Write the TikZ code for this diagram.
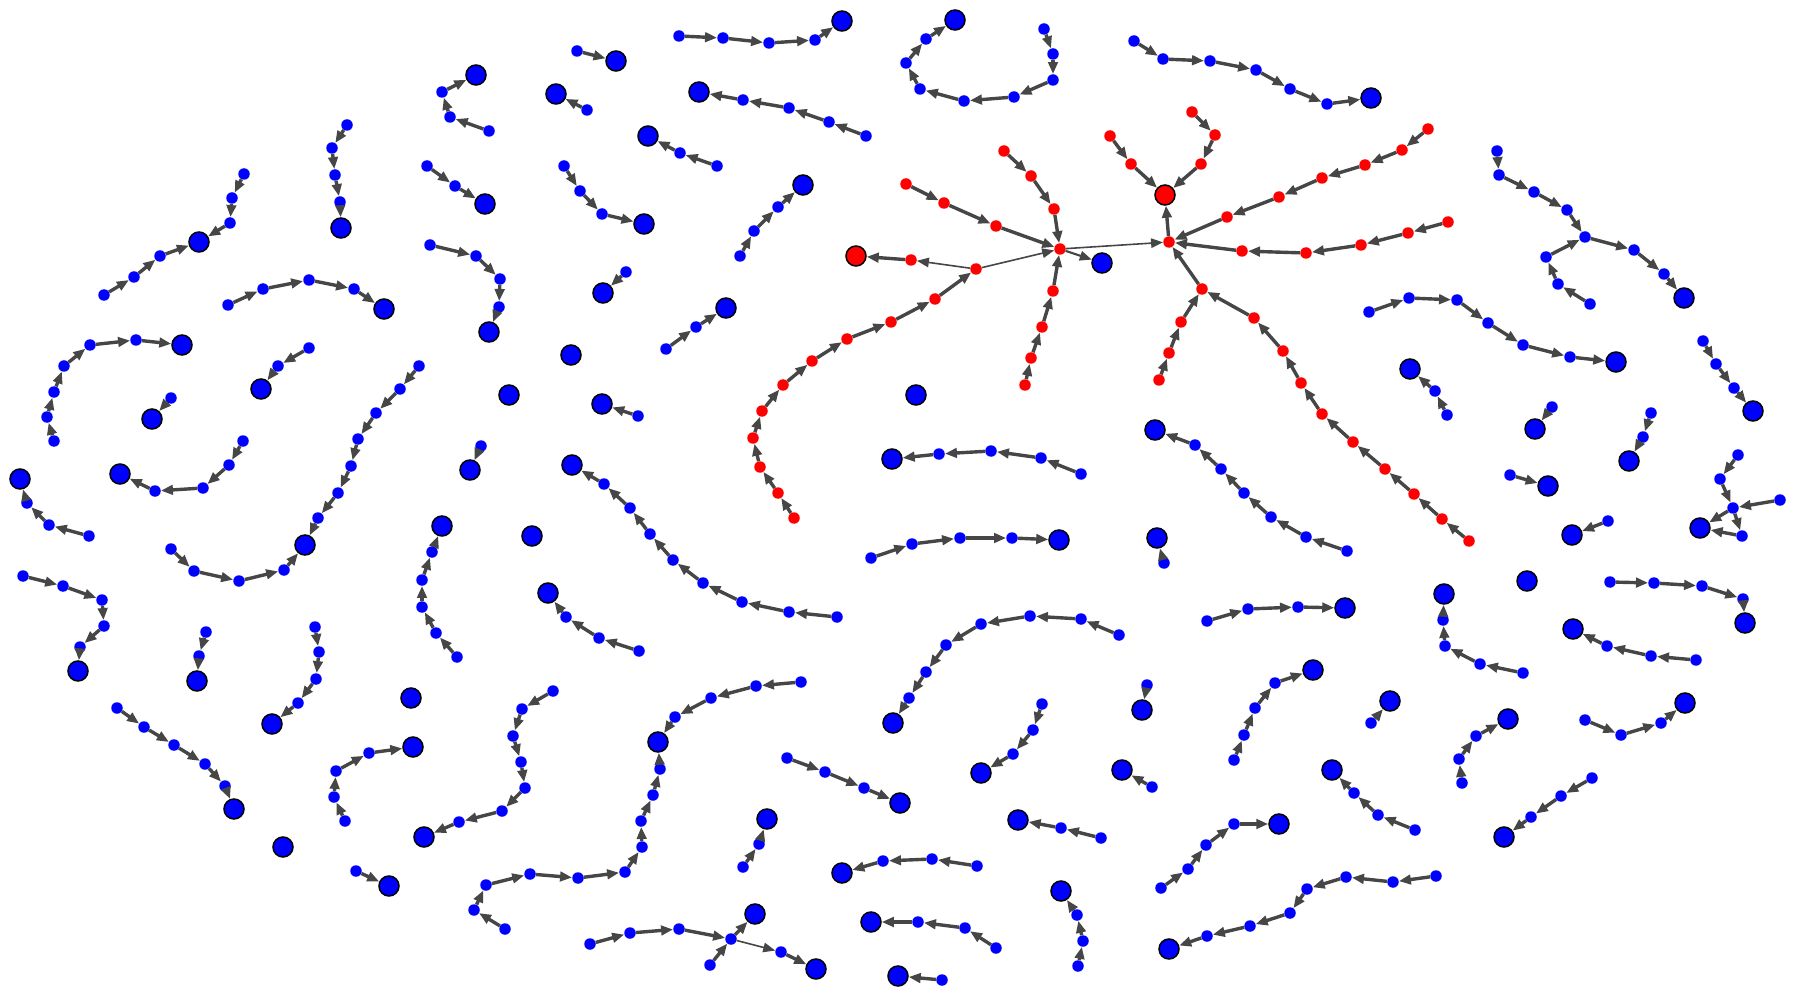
\documentclass[tikz,border=0pt]{standalone}
\usepackage{tikz}
\usetikzlibrary{arrows.meta}
\definecolor{edgegray}{RGB}{70,70,70}

% a chain of small nodes, each pointing to the next, the last one to #4
\newcommand{\nodechain}[4][leaf]{%
  \foreach \px/\py [count=\i, remember=\i as \lasti (initially 0)] in {#3} {%
    \node[#1] (#2\i) at (\px,\py) {};
    \ifnum\i>1 \draw[edge] (#2\lasti) -- (#2\i);\fi
    \xdef\chainend{#2\i}%
  }%
  \draw[edge] (\chainend) -- (#4);%
}

\begin{document}
\begin{tikzpicture}[x=1pt, y=-1pt,
  leaf/.style={circle, fill=blue, inner sep=0pt, minimum size=11.5pt},
  redleaf/.style={leaf, fill=red},
  root/.style={circle, fill=blue, draw=black, line width=1.5pt, inner sep=0pt, minimum size=20pt},
  redroot/.style={root, fill=red},
  edge/.style={draw=edgegray, line width=3.4pt, -{Triangle[length=12pt,width=9.5pt]}},
  midedge/.style={edge, line width=2.2pt},
  thinedge/.style={edge, line width=1.6pt}]
  \useasboundingbox (0,0) rectangle (1800,1000);

  % single roots
  \node[root] (s1) at (571,355) {};
  \node[root] (s2) at (509,395) {};
  \node[root] (s3) at (532,536) {};
  \node[root] (s4) at (916,395) {};
  \node[root] (s5) at (1527,581) {};
  \node[root] (s6) at (411,698) {};
  \node[root] (s7) at (283,847) {};

  % top left
  \node[root] (r1) at (199,242) {};
  \nodechain{a1-}{104/295,134/277,160/256}{r1}
  \nodechain{a2-}{244/174,232/198,230/223}{r1}
  \node[root] (r2) at (341,228) {};
  \nodechain{a3-}{347/125,332/148,335/175,340/202}{r2}
  \node[root] (r3) at (384,309) {};
  \nodechain{a4-}{228/305,263/289,309/280,354/289}{r3}
  \node[root] (r4) at (476,75) {};
  \nodechain{a5-}{489/131,450/117,442/92}{r4}
  \node[root] (r5) at (616,61) {};
  \nodechain{a6-}{577/51}{r5}
  \node[root] (r6) at (556,94) {};
  \nodechain{a7-}{587/110}{r6}
  \node[root] (r7) at (842,21) {};
  \nodechain{a8-}{679/36,723/38,769/43,815/40}{r7}
  \node[root] (r8) at (699,92) {};
  \nodechain{a9-}{866/136,829/122,789/108,743/100}{r8}
  \node[root] (r9) at (648,136) {};
  \nodechain{a10-}{717/166,680/153}{r9}
  \node[root] (r10) at (485,204) {};
  \nodechain{a11-}{427/166,455/186}{r10}
  \node[root] (r11) at (644,224) {};
  \nodechain{a12-}{564/166,580/191,602/214}{r11}
  \node[root] (r12) at (803,185) {};
  \nodechain{a13-}{740/256,754/231,778/207}{r12}
  \node[root] (r13) at (489,332) {};
  \nodechain{a14-}{430/245,476/256,500/279,499/307}{r13}
  \node[root] (r14) at (603,293) {};
  \nodechain{a15-}{626/272}{r14}
  \node[root] (r15) at (726,308) {};
  \nodechain{a16-}{666/349,696/327}{r15}

  % top middle and right
  \node[root] (r16) at (955,20) {};
  \nodechain{b1-}{1044/29,1053/54,1053/80,1014/97,964/101,920/89,906/63,926/39}{r16}
  \node[root] (r17) at (1371,98) {};
  \nodechain{b2-}{1134/41,1163/59,1210/61,1256/70,1290/89,1327/104}{r17}
  \node[root] (r18) at (1684,298) {};
  \nodechain{b3-}{1497/151,1499/175,1534/192,1567/210,1585/237,1634/250,1664/274}{r18}
  \nodechain{b4-}{1590/304,1558/284,1546/257}{b3-5}
  \node[root] (r19) at (1616,362) {};
  \nodechain{b5-}{1369/312,1409/298,1457/300,1488/323,1523/345,1570/357}{r19}

  % middle left
  \node[root] (r20) at (182,345) {};
  \nodechain{d1-}{54/441,47/417,54/392,64/366,90/345,136/340}{r20}
  \node[root] (r21) at (152,419) {};
  \nodechain{d2-}{171/398}{r21}
  \node[root] (r22) at (261,389) {};
  \nodechain{d3-}{309/348,278/366}{r22}
  \node[root] (r23) at (120,474) {};
  \nodechain{d4-}{243/441,229/465,203/488,155/491}{r23}
  \node[root] (r24) at (20,479) {};
  \nodechain{d5-}{89/536,49/525,27/503}{r24}
  \node[root] (r25) at (305,545) {};
  \nodechain{d6-}{419/366,400/389,376/413,358/439,351/466,338/493,318/518}{r25}
  \nodechain{d7-}{171/549,194/571,239/581,284/570}{r25}
  \node[root] (r26) at (78,671) {};
  \nodechain{d8-}{23/576,63/586,102/600,104/626,80/647}{r26}
  \node[root] (r27) at (197,681) {};
  \nodechain{d9-}{206/632,199/656}{r27}
  \node[root] (r28) at (272,724) {};
  \nodechain{d10-}{315/627,319/652,316/679,298/703}{r28}
  \node[root] (r29) at (442,526) {};
  \nodechain{d11-}{457/657,436/633,422/607,422/580,432/552}{r29}
  \node[root] (r30) at (602,404) {};
  \nodechain{d12-}{638/416}{r30}
  \node[root] (r31) at (470,470) {};
  \nodechain{d13-}{481/446}{r31}
  \node[root] (r32) at (572,465) {};
  \nodechain{d14-}{837/617,789/612,742/602,703/583,673/560,650/534,630/508,604/484}{r32}
  \node[root] (r33) at (548,593) {};
  \nodechain{d15-}{639/651,599/638,566/617}{r33}

  % middle
  \node[root] (r34) at (892,459) {};
  \nodechain{e1-}{1081/474,1041/458,991/451,939/454}{r34}
  \node[root] (r35) at (1059,540) {};
  \nodechain{e2-}{871/558,912/544,960/538,1012/538}{r35}
  \node[root] (r36) at (1155,430) {};
  \nodechain{e3-}{1347/551,1306/537,1271/517,1244/493,1221/469,1195/445}{r36}
  \node[root] (r37) at (1157,538) {};
  \nodechain{e4-}{1164/563}{r37}
  \node[root] (r38) at (1345,608) {};
  \nodechain{e5-}{1207/621,1248/609,1298/607}{r38}
  \node[root] (r39) at (893,723) {};
  \nodechain{e6-}{1119/635,1081/619,1030/616,981/624,946/645,926/672,909/698}{r39}

  % middle right
  \node[root] (r40) at (1410,369) {};
  \nodechain{f1-}{1447/415,1435/391}{r40}
  \node[root] (r41) at (1753,411) {};
  \nodechain{f2-}{1703/341,1716/364,1734/388}{r41}
  \node[root] (r42) at (1535,429) {};
  \nodechain{f3-}{1552/407}{r42}
  \node[root] (r43) at (1629,461) {};
  \nodechain{f4-}{1651/413,1643/437}{r43}
  \node[root] (r44) at (1548,486) {};
  \nodechain{f5-}{1510/475}{r44}
  \node[root] (r45) at (1572,535) {};
  \nodechain{f6-}{1608/521}{r45}
  \node[root] (r46) at (1700,528) {};
  \nodechain{f7-}{1738/455,1720/479,1733/508}{r46}
  \nodechain{f8-}{1780/500}{f7-3}
  \nodechain{f9-}{1742/536}{r46}
  \draw[edge] (f7-3) -- (f9-1);
  \node[root] (r47) at (1444,594) {};
  \nodechain{f10-}{1523/673,1480/664,1445/646,1443/620}{r47}
  \node[root] (r48) at (1573,629) {};
  \nodechain{f11-}{1696/660,1651/656,1607/646}{r48}
  \node[root] (r49) at (1745,623) {};
  \nodechain{f12-}{1610/582,1654/583,1702/586,1743/599}{r49}

  % bottom left
  \node[root] (r50) at (234,809) {};
  \nodechain{g1-}{117/708,144/727,174/745,205/764,225/786}{r50}
  \node[root] (r51) at (413,747) {};
  \nodechain{g2-}{345/821,334/797,336/771,369/753}{r51}
  \node[root] (r52) at (389,886) {};
  \nodechain{g3-}{356/871}{r52}
  \node[root] (r53) at (424,837) {};
  \nodechain{g4-}{553/691,522/709,513/736,521/762,525/788,502/811,459/822}{r53}
  \node[root] (r54) at (658,742) {};
  \nodechain{g5-}{801/682,756/686,711/698,675/717}{r54}
  \nodechain{g6-}{505/929,474/910,486/885,530/874,578/878,625/872,642/847,641/821,653/795,660/769}{r54}

  % bottom middle
  \node[root] (r55) at (900,803) {};
  \nodechain{h1-}{787/758,825/772,864/788}{r55}
  \node[root] (r56) at (767,819) {};
  \nodechain{h2-}{743/867,759/844}{r56}
  \node[root] (r57) at (842,873) {};
  \nodechain{h3-}{977/866,932/859,883/861}{r57}
  \node[root] (r58) at (871,922) {};
  \nodechain{h4-}{996/948,965/928,918/922}{r58}
  \node[root] (r59) at (898,976) {};
  \nodechain{h5-}{942/980}{r59}
  \node[root] (r60) at (755,914) {};
  \node[root] (r61) at (816,969) {};
  \nodechain{h6-}{590/944,630/933,679/929,731/939}{r60}
  \nodechain{h7-}{710/965}{h6-4}
  \nodechain{h8-}{781/952}{r61}
  \draw[thinedge] (h6-4) -- (h8-1);
  \node[root] (r62) at (981,773) {};
  \nodechain{h9-}{1042/704,1033/730,1013/754}{r62}
  \node[root] (r63) at (1142,710) {};
  \nodechain{h10-}{1147/685}{r63}
  \node[root] (r64) at (1122,770) {};
  \nodechain{h11-}{1152/787}{r64}
  \node[root] (r65) at (1018,820) {};
  \nodechain{h12-}{1101/838,1061/828}{r65}
  \node[root] (r66) at (1061,891) {};
  \nodechain{h13-}{1078/966,1083/941,1077/915}{r66}

  % bottom right
  \node[root] (r67) at (1313,670) {};
  \nodechain{k1-}{1234/760,1244/735,1255/708,1275/683}{r67}
  \node[root] (r68) at (1332,770) {};
  \nodechain{k2-}{1415/830,1378/815,1354/793}{r68}
  \node[root] (r69) at (1279,824) {};
  \nodechain{k3-}{1161/888,1188/869,1206/845,1234/824}{r69}
  \node[root] (r70) at (1169,949) {};
  \nodechain{k4-}{1436/876,1393/882,1346/877,1307/889,1290/913,1250/926,1207/936}{r70}
  \node[root] (r71) at (1390,701) {};
  \nodechain{k5-}{1371/723}{r71}
  \node[root] (r72) at (1508,719) {};
  \nodechain{k6-}{1462/783,1459/759,1476/736}{r72}
  \node[root] (r73) at (1685,703) {};
  \nodechain{k7-}{1585/720,1621/735,1661/723}{r73}
  \node[root] (r74) at (1504,837) {};
  \nodechain{k8-}{1592/778,1561/796,1531/817}{r74}

  % red component
  \node[redroot] (rtop) at (1165,195) {};
  \node[redroot] (rleft) at (856,256) {};
  \node[root] (rblue) at (1102,263) {};
  \node[redleaf] (hubA) at (1060,249) {};
  \node[redleaf] (hubB) at (1169,242) {};
  \node[redleaf] (midA) at (976,269) {};
  \node[redleaf] (midB) at (911,260) {};
  \node[redleaf] (midC) at (1202,289) {};
  \draw[edge] (hubB) -- (rtop);
  \draw[thinedge] (hubA) -- (hubB);
  \draw[midedge] (hubA) -- (rblue);
  \draw[thinedge] (midA) -- (hubA);
  \draw[thinedge] (midA) -- (midB);
  \draw[edge] (midB) -- (rleft);
  \draw[edge] (midC) -- (hubB);
  \nodechain[redleaf]{q1-}{1110/136,1131/164}{rtop}
  \nodechain[redleaf]{q2-}{1192/112,1215/135,1201/164}{rtop}
  \nodechain[redleaf]{q3-}{1428/129,1402/150,1365/165,1322/178,1279/197,1227/217}{hubB}
  \nodechain[redleaf]{q4-}{1448/222,1408/233,1361/245,1306/253,1242/251}{hubB}
  \nodechain[redleaf]{q5-}{1159/380,1169/353,1181/322}{midC}
  \nodechain[redleaf]{q6-}{1469/541,1442/519,1414/494,1385/469,1353/442,1322/414,1301/383,1283/351,1254/318}{midC}
  \nodechain[redleaf]{q7-}{1004/151,1031/176,1054/209}{hubA}
  \nodechain[redleaf]{q8-}{906/184,944/203,996/226}{hubA}
  \nodechain[redleaf]{q9-}{1025/385,1031/358,1042/327,1053/291}{hubA}
  \nodechain[redleaf]{q10-}{794/518,778/493,760/467,753/438,762/411,783/385,812/361,847/339,891/322,935/299}{midA}
\end{tikzpicture}
\end{document}
